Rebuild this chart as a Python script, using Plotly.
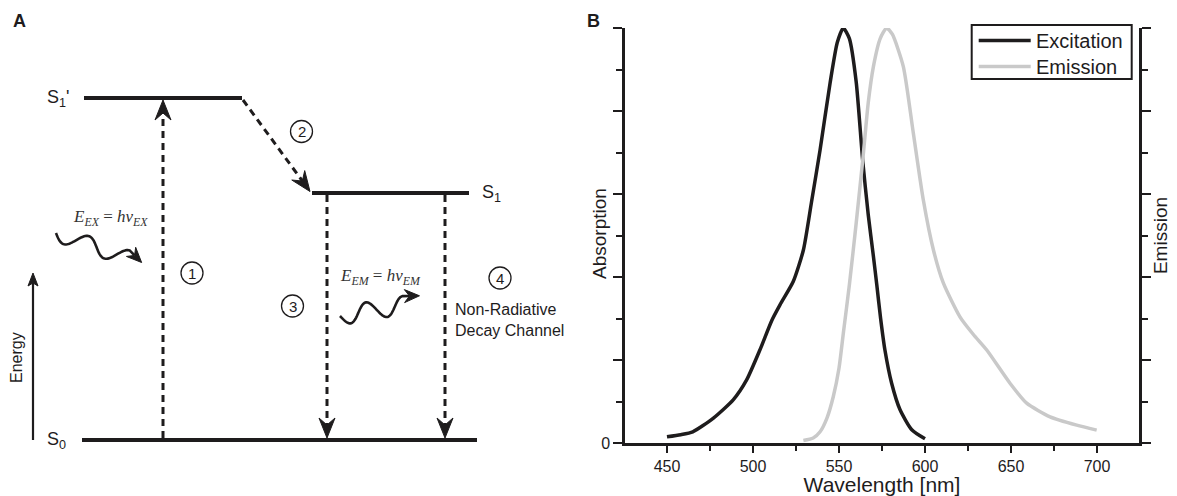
import numpy as np
import plotly.graph_objects as go

W, H = 1177, 496
INK = "#1e1c1d"
GREY = "#c9c9c9"
SANS = "Liberation Sans, Arial, sans-serif"
SERIF = "Liberation Serif, Times New Roman, serif"

# ---------------- Panel B data ----------------
exc_wl = [450, 458, 465, 477, 488.5, 496.3, 504, 511, 515.7, 523.4, 529.3, 534, 539, 544.8,
          549, 552.5, 556, 560, 563.8, 567, 570, 572, 574.2, 576.7, 580.6, 585.5, 592.3, 600]
exc_val = [0.015, 0.02, 0.027, 0.06, 0.104, 0.152, 0.224, 0.296, 0.333, 0.389, 0.465, 0.58, 0.706, 0.867,
           0.965, 1.0, 0.975, 0.87, 0.68, 0.55, 0.45, 0.38, 0.30, 0.224, 0.144, 0.08, 0.032, 0.01]

em_wl = [529.3, 535, 539, 543, 546.7, 550, 552.5, 556, 560, 564, 567, 570, 574, 577.7, 581,
         587.4, 593.2, 599, 604.9, 610.7, 620.3, 628, 635.9, 649.4, 659.1, 672.7, 688.2, 699.8]
em_val = [0.006, 0.012, 0.027, 0.06, 0.112, 0.18, 0.264, 0.38, 0.53, 0.69, 0.82, 0.907, 0.975, 1.0, 0.985,
          0.907, 0.747, 0.586, 0.465, 0.385, 0.304, 0.262, 0.224, 0.144, 0.096, 0.063, 0.043, 0.031]

x_tick_vals = [450, 500, 550, 600, 650, 700]
y_tick_vals = [0, 0.2, 0.4, 0.6, 0.8, 1.0]
y_tick_text = ["0", "", "", "", "", ""]
series_names = ["Excitation", "Emission"]
series_colors = [INK, GREY]

# ---------------- Panel A diagram (schematic, pixel units) ----------------
level_labels = ["S<sub>1</sub>'", "S<sub>1</sub>", "S<sub>0</sub>"]
level_y = [98, 193, 440]
level_x0 = [84, 312, 82]
level_x1 = [242, 469, 477]
level_label_x = [45, 480, 45]

step_labels = ["1", "2", "3", "4"]
step_cx = [192, 301.5, 292.5, 500]
step_cy = [273, 131.5, 306, 278]

fig = go.Figure()

fig.add_trace(go.Scatter(x=exc_wl, y=exc_val, mode="lines", name=series_names[0],
                         line=dict(color=series_colors[0], width=3.5, shape="spline", smoothing=0.6),
                         xaxis="x", yaxis="y", showlegend=False))
fig.add_trace(go.Scatter(x=em_wl, y=em_val, mode="lines", name=series_names[1],
                         line=dict(color=series_colors[1], width=3.5, shape="spline", smoothing=0.6),
                         xaxis="x", yaxis="y2", showlegend=False))
# dummy trace for the diagram canvas
fig.add_trace(go.Scatter(x=[None], y=[None], xaxis="x3", yaxis="y3", showlegend=False, hoverinfo="skip"))

shapes = []
annotations = []


def arrowhead(tip, direction, length=20, half=8, notch=7, color=INK):
    ux, uy = direction
    n = (ux ** 2 + uy ** 2) ** 0.5
    ux, uy = ux / n, uy / n
    px, py = -uy, ux
    bx, by = tip[0] - ux * length, tip[1] - uy * length
    lx, ly = bx + px * half, by + py * half
    rx, ry = bx - px * half, by - py * half
    nx, ny = tip[0] - ux * (length - notch), tip[1] - uy * (length - notch)
    path = f"M{tip[0]:.2f},{tip[1]:.2f} L{lx:.2f},{ly:.2f} L{nx:.2f},{ny:.2f} L{rx:.2f},{ry:.2f} Z"
    return dict(type="path", path=path, xref="x3", yref="y3", fillcolor=color,
                line=dict(color=color, width=1)), (nx, ny)


def line(x0, y0, x1, y1, width=3, dash=None, color=INK):
    d = dict(color=color, width=width)
    if dash:
        d["dash"] = dash
    return dict(type="line", x0=x0, y0=y0, x1=x1, y1=y1, xref="x3", yref="y3", line=d)


def wave(p0, p1, amp, periods, head_len=18, head_dir_rot=0.0):
    p0 = np.array(p0, float)
    p1 = np.array(p1, float)
    d = p1 - p0
    L = np.linalg.norm(d)
    u = d / L
    perp = np.array([-u[1], u[0]])
    t = np.linspace(0, 1, 80)
    pts = p0[None, :] + t[:, None] * d[None, :] + (amp * np.sin(2 * np.pi * periods * t))[:, None] * perp[None, :]
    path = "M" + " L".join(f"{x:.2f},{y:.2f}" for x, y in pts)
    end = pts[-1]
    c, s = np.cos(head_dir_rot), np.sin(head_dir_rot)
    hd = np.array([u[0] * c - u[1] * s, u[0] * s + u[1] * c])
    tip = end + hd * head_len
    sh = dict(type="path", path=path + f" L{tip[0] - hd[0]*10:.2f},{tip[1] - hd[1]*10:.2f}",
              xref="x3", yref="y3", line=dict(color=INK, width=2.6))
    head, _ = arrowhead(tuple(tip), tuple(hd), length=15, half=6.5, notch=5)
    return [sh, head]


# energy levels
for lab, y, x0, x1, lx in zip(level_labels, level_y, level_x0, level_x1, level_label_x):
    shapes.append(line(x0, y, x1, y, width=4))
    annotations.append(dict(x=lx, y=y, xref="x3", yref="y3", text=lab, showarrow=False,
                            xanchor="left", yanchor="middle", font=dict(family=SANS, size=18, color=INK)))

DASH = "7px,5px"
# (1) excitation, upward
head, nb = arrowhead((163, 100), (0, -1))
shapes.append(line(163, 438, 163, nb[1], dash=DASH))
shapes.append(head)
# (2) vibrational relaxation, diagonal
head, nb = arrowhead((310, 191.5), (68, 93.5))
shapes.append(line(243, 100, nb[0], nb[1], dash=DASH))
shapes.append(head)
# (3) radiative decay
head, nb = arrowhead((327, 438), (0, 1))
shapes.append(line(327, 195, 327, nb[1], dash=DASH))
shapes.append(head)
# (4) non-radiative decay
head, nb = arrowhead((445, 438), (0, 1))
shapes.append(line(445, 195, 445, nb[1], dash=DASH))
shapes.append(head)

# energy axis arrow
head, nb = arrowhead((33, 273), (0, -1), length=13, half=5, notch=3)
shapes.append(line(33, 440, 33, nb[1], width=2.2))
shapes.append(head)
annotations.append(dict(x=16, y=358, xref="x3", yref="y3", text="Energy", showarrow=False, textangle=-90,
                        font=dict(family=SANS, size=16, color=INK)))

# photon waves
shapes += wave((56, 233), (127, 258), amp=8, periods=1.75, head_len=17, head_dir_rot=0.45)
shapes += wave((340, 316), (404, 305), amp=9, periods=1.75, head_len=17, head_dir_rot=0.15)

annotations.append(dict(x=110, y=218, xref="x3", yref="y3", showarrow=False,
                        text="<i>E</i><sub><i>EX</i></sub> = <i>hν</i><sub><i>EX</i></sub>",
                        font=dict(family=SERIF, size=17, color="#333")))
annotations.append(dict(x=380, y=277, xref="x3", yref="y3", showarrow=False,
                        text="<i>E</i><sub><i>EM</i></sub> = <i>hν</i><sub><i>EM</i></sub>",
                        font=dict(family=SERIF, size=17, color="#333")))

# step numbers in circles
for lab, cx, cy in zip(step_labels, step_cx, step_cy):
    r = 11
    shapes.append(dict(type="circle", x0=cx - r, x1=cx + r, y0=cy - r, y1=cy + r, xref="x3", yref="y3",
                       line=dict(color=INK, width=1.3)))
    annotations.append(dict(x=cx, y=cy, xref="x3", yref="y3", text=lab, showarrow=False,
                            font=dict(family=SANS, size=15, color=INK)))

annotations.append(dict(x=453, y=320, xref="x3", yref="y3", text="Non-Radiative<br>Decay Channel",
                        showarrow=False, xanchor="left", align="left",
                        font=dict(family=SANS, size=16, color=INK)))

# panel letters
annotations.append(dict(x=19.5, y=21, xref="x3", yref="y3", text="<b>A</b>", showarrow=False,
                        font=dict(family=SANS, size=18, color=INK)))
annotations.append(dict(x=593, y=21, xref="x3", yref="y3", text="<b>B</b>", showarrow=False,
                        font=dict(family=SANS, size=18, color=INK)))

# left axis title
annotations.append(dict(x=599, y=234, xref="x3", yref="y3", text="Absorption", showarrow=False,
                        textangle=-90, font=dict(family=SANS, size=19, color=INK)))

# legend box (drawn to match the boxed key of the reference)
LEG_X0, LEG_X1, LEG_Y0, LEG_Y1 = 971.7, 1131.7, 25, 79
shapes.append(dict(type="rect", x0=LEG_X0, x1=LEG_X1, y0=LEG_Y0, y1=LEG_Y1, xref="x3", yref="y3",
                   line=dict(color=INK, width=2), fillcolor="white", layer="above"))
for i, (nm, col) in enumerate(zip(series_names, series_colors)):
    yy = 40.5 + i * 26
    shapes.append(line(LEG_X0 + 7, yy, LEG_X0 + 59, yy, width=3.5, color=col))
    annotations.append(dict(x=LEG_X0 + 62, y=yy, xref="x3", yref="y3", text=nm, showarrow=False,
                            xanchor="left", yanchor="middle", font=dict(family=SANS, size=20, color=INK)))

ax_common = dict(showgrid=False, zeroline=False, showline=True, linewidth=2.5, linecolor=INK,
                 ticks="outside", tickwidth=2, tickcolor=INK, automargin=False)

fig.update_layout(
    width=W, height=H, margin=dict(l=0, r=0, t=0, b=0, autoexpand=False),
    paper_bgcolor="white", plot_bgcolor="rgba(0,0,0,0)",
    font=dict(family=SANS, color=INK),
    xaxis=dict(domain=[625 / W, 1139 / W], range=[425.6, 724.4], anchor="y",
               tickvals=x_tick_vals, ticklen=7, tickfont=dict(size=16),
               minor=dict(ticks="outside", ticklen=5, tickwidth=2, tickcolor=INK, dtick=25, tick0=425),
               title=dict(text="Wavelength [nm]", font=dict(size=21), standoff=3),
               **ax_common),
    yaxis=dict(domain=[(H - 443) / H, (H - 28) / H], range=[0, 1], anchor="x",
               tickvals=y_tick_vals, ticktext=y_tick_text, ticklen=9, tickfont=dict(size=16),
               minor=dict(ticks="outside", ticklen=6, tickwidth=2, tickcolor=INK, dtick=0.1, tick0=0),
               **ax_common),
    yaxis2=dict(overlaying="y", side="right", anchor="x", range=[0, 1],
                tickvals=y_tick_vals, showticklabels=False, ticklen=9,
                minor=dict(ticks="outside", ticklen=6, tickwidth=2, tickcolor=INK, dtick=0.1, tick0=0),
                title=dict(text="Emission", font=dict(size=19), standoff=4),
                **ax_common),
    xaxis3=dict(domain=[0, 1], range=[0, W], anchor="y3", visible=False, fixedrange=True, automargin=False),
    yaxis3=dict(domain=[0, 1], range=[H, 0], anchor="x3", visible=False, fixedrange=True, automargin=False),
    showlegend=False,
    shapes=shapes,
    annotations=annotations,
)

fig.write_html("out.html")
